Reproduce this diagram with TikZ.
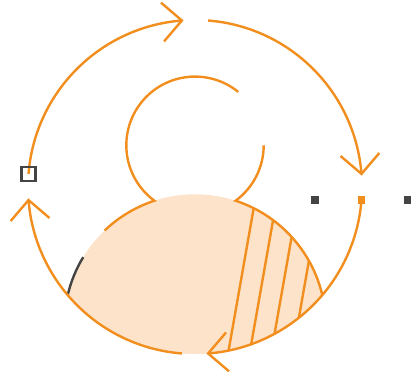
\documentclass[tikz,border=0pt]{standalone}
\usetikzlibrary{calc}
\definecolor{orng}{RGB}{242,142,30}
\definecolor{peach}{RGB}{253,227,201}
\definecolor{dgray}{RGB}{68,68,68}
\begin{document}
\begin{tikzpicture}[x=1pt,y=1pt,
  oline/.style={draw=orng,line width=2.4pt},
  chev/.style={draw=orng,line width=2.4pt,line join=miter},
  gline/.style={draw=dgray,line width=2.4pt},
  handle/.style={draw=dgray,line width=2.5pt,minimum size=14.2pt,inner sep=0pt,outer sep=0pt},
  knot/.style={fill=dgray,minimum size=7.5pt,inner sep=0pt,outer sep=0pt},
]
\useasboundingbox (0,0) rectangle (418,379);
\coordinate (C) at (195,192);
\coordinate (S) at (195,233.7);
\coordinate (F) at (195,53.9);

% lens region with hatching
\begin{scope}
  \clip (C) circle[radius=167];
  \fill[peach] (F) circle[radius=130.8];
  \begin{scope}
    \clip (F) circle[radius=130.8];
    \foreach \x in {237.5,259,280.5,302}
      \draw[oline] (\x,79) ++(80:-200) -- ++(80:400);
  \end{scope}
\end{scope}

% small circle pieces continuing into the lens outline
\draw[oline] (S) ++(51:68.7) arc[start angle=51,end angle=233.8,radius=68.7]
  arc[start angle=108.07,end angle=133.7,radius=130.8];
\draw[oline] (S) ++(0:68.7) arc[start angle=0,end angle=-53.8,radius=68.7]
  arc[start angle=71.93,end angle=13.26,radius=130.8];

% dark arc on lens edge
\draw[gline] (F) ++(148.7:130.8) arc[start angle=148.7,end angle=166.74,radius=130.8];

% big cycle
\draw[oline] (C) ++(175.5:167) coordinate (p1) arc[start angle=175.5,end angle=94.5,radius=167];
\draw[oline] (C) ++(85.5:167) coordinate (p2) arc[start angle=85.5,end angle=4.5,radius=167];
\draw[oline] (C) ++(-4.5:167) coordinate (p3) arc[start angle=-4.5,end angle=-85.5,radius=167];
\draw[oline] (C) ++(-94.5:167) coordinate (p4) arc[start angle=-94.5,end angle=-175.5,radius=167];

% chevrons
\foreach \t in {94.5,4.5,-85.5,-175.5}
  \draw[chev] (C) ++(\t:167) ++(\t+135:27.5) -- ++(\t-45:27.5) -- ++(\t+45:27.5);

% handles
\node[handle] (h1) at (p1) {};
\node[knot,fill=orng] (h3) at (p3) {};
\node[knot] (h3a) at ($(p3)+(-46.5,0)$) {};
\node[knot] (h3b) at ($(p3)+(46.2,0)$) {};
\end{tikzpicture}
\end{document}
